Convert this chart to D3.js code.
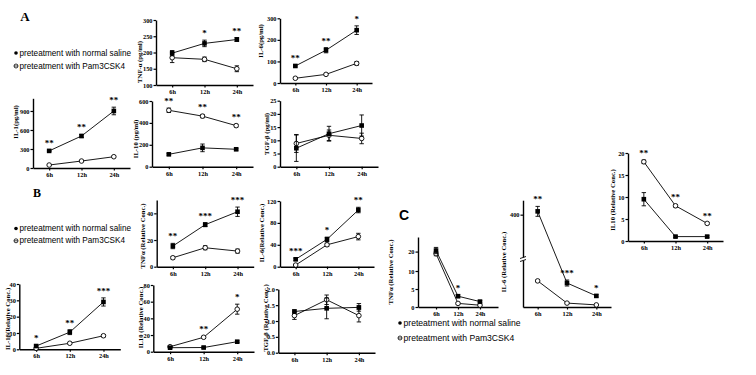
<!DOCTYPE html>
<html><head><meta charset="utf-8">
<script src="https://cdn.jsdelivr.net/npm/d3@7"></script>
<style>body{margin:0;background:#fff} svg{display:block}</style>
</head><body><svg id="fig" width="756" height="375"></svg>
<script>
const times = ["6h", "12h", "24h"];

// A: serum cytokines (pg/ml)
const aTnfSaline = [198, 228, 240], aTnfSalineErr = [8, 10, 6];
const aTnfPam = [184, 179, 150], aTnfPamErr = [15, 7, 9];
const aTnfStars = ["", "*", "**"];

const aIl6Saline = [79, 152, 245], aIl6SalineErr = [5, 12, 20];
const aIl6Pam = [22, 40, 91], aIl6PamErr = [3, 4, 8];
const aIl6Stars = ["**", "**", "*"];

const aIl1Saline = [270, 505, 900], aIl1SalineErr = [10, 25, 60];
const aIl1Pam = [47, 110, 178], aIl1PamErr = [5, 8, 10];
const aIl1Stars = ["**", "**", "**"];

const aIl10Saline = [113, 172, 159], aIl10SalineErr = [8, 35, 8];
const aIl10Pam = [515, 462, 375], aIl10PamErr = [20, 15, 12];
const aIl10Stars = ["**", "**", "**"];

const aTgfSaline = [7, 12.5, 15.6], aTgfSalineErr = [5, 2.8, 4];
const aTgfPam = [8.8, 11.9, 10.7], aTgfPamErr = [3.4, 2, 2];
const aTgfStars = ["", "", ""];

// B: relative mRNA
const bTnfSaline = [15.5, 31.5, 41.2], bTnfSalineErr = [2, 1.5, 3.5];
const bTnfPam = [6.7, 14.2, 11.7], bTnfPamErr = [1, 1.5, 1.5];
const bTnfStars = ["**", "***", "***"];

const bIl6Saline = [13.5, 50, 103.5], bIl6SalineErr = [2, 4, 5];
const bIl6Pam = [3, 40, 55], bIl6PamErr = [1.5, 3, 6];
const bIl6Stars = ["***", "*", "**"];

const bIl1Saline = [2, 10.5, 29], bIl1SalineErr = [0.6, 1.5, 2.5];
const bIl1Pam = [0.6, 3.7, 8.3], bIl1PamErr = [0.3, 0.5, 0.7];
const bIl1Stars = ["*", "**", "***"];

const bIl10Saline = [4.8, 5, 12], bIl10SalineErr = [0.8, 0.8, 1];
const bIl10Pam = [6, 17.3, 51], bIl10PamErr = [0.8, 1.2, 6];
const bIl10Stars = ["", "**", "*"];

const bTgfSaline = [1.3, 1.4, 1.43], bTgfSalineErr = [0.05, 0.33, 0.12];
const bTgfPam = [1.17, 1.67, 1.17], bTgfPamErr = [0.12, 0.15, 0.2];
const bTgfStars = ["", "", ""];

// C: relative mRNA
const cTnfSaline = [20.5, 3, 1.5], cTnfSalineErr = [1.5, 0.4, 0.3];
const cTnfPam = [19, 1, 0.5], cTnfPamErr = [1, 0.2, 0.1];
const cTnfStars = ["", "*", ""];

const cIl6Saline = [408, 80, 37], cIl6SalineErr = [12, 10, 4];
const cIl6Pam = [87, 13, 7], cIl6PamErr = [3, 2, 1];
const cIl6Stars = ["**", "***", "*"];

const cIl10Saline = [9.5, 1, 1], cIl10SalineErr = [1.5, 0.2, 0.2];
const cIl10Pam = [18, 8, 4], cIl10PamErr = [0.4, 0.3, 0.2];
const cIl10Stars = ["**", "**", "**"];

const legendSaline = "preteatment with normal saline";
const legendPam = "preteatment with Pam3CSK4";

const svg = d3.select("#fig");
const SERIF = "'Liberation Serif','Times New Roman',serif";
const SANS = "'Liberation Sans',Arial,sans-serif";

function panel(c) {
    const g = svg.append("g");
    const x = d3.scalePoint().domain(times)
        .range([c.x0, c.x0 + c.w]).padding(c.pad || 0.5);
    const y = d3.scaleLinear().domain(c.domain).range(c.range);

    const xa = g.append("g")
        .attr("transform", `translate(0,${c.range[0]})`)
        .call(d3.axisBottom(x).tickSize(2.5).tickSizeOuter(0).tickPadding(2));
    const ya = g.append("g")
        .attr("transform", `translate(${c.x0},0)`)
        .call(d3.axisLeft(y).tickValues(c.ticks).tickSize(2.5).tickSizeOuter(0)
            .tickPadding(1).tickFormat(c.fmt || (d => d)));
    [xa, ya].forEach(a => {
        a.select(".domain").attr("stroke", "#000").attr("stroke-width", 1.4);
        a.selectAll(".tick line").attr("stroke", "#000").attr("stroke-width", 1.2);
        a.selectAll("text").attr("fill", "#000").style("font-family", SERIF)
            .style("font-weight", "bold").style("font-size", "6.3px");
    });

    //axis break mark
    if (c.brk) {
        const yb = (y(c.brk[0]) + y(c.brk[1])) / 2;
        g.append("rect").attr("x", c.x0 - 3).attr("y", yb - 1.5).attr("width", 6).attr("height", 3)
            .attr("fill", "#fff");
        [-1.5, 1.5].forEach(d => g.append("line")
            .attr("x1", c.x0 - 3).attr("x2", c.x0 + 3).attr("y1", yb + d + 1).attr("y2", yb + d - 1)
            .attr("stroke", "#000").attr("stroke-width", 0.9));
    }

    //y label
    g.append("text")
        .attr("transform", `translate(${c.lx},${c.ly}) rotate(-90)`)
        .attr("text-anchor", "middle")
        .attr("dominant-baseline", "central")
        .style("font-family", SERIF).style("font-weight", "bold").style("font-size", "6.7px")
        .text(c.label);

    const line = d3.line().x((d, i) => x(times[i])).y(d => y(d));
    const series = [
        { v: c.pam, e: c.pamErr, open: true },
        { v: c.saline, e: c.salineErr, open: false }
    ];
    series.forEach(s => {
        g.append("path").datum(s.v).attr("d", line)
            .attr("fill", "none").attr("stroke", "#000").attr("stroke-width", 0.9);
        s.v.forEach((m, i) => {
            const cx = x(times[i]);
            const lo = y(m - s.e[i]), hi = y(m + s.e[i]);
            g.append("line").attr("x1", cx).attr("x2", cx).attr("y1", lo).attr("y2", hi)
                .attr("stroke", "#000").attr("stroke-width", 0.9);
            [lo, hi].forEach(yy => g.append("line")
                .attr("x1", cx - 2.2).attr("x2", cx + 2.2).attr("y1", yy).attr("y2", yy)
                .attr("stroke", "#000").attr("stroke-width", 0.9));
            if (s.open) {
                g.append("circle").attr("cx", cx).attr("cy", y(m)).attr("r", 2.3)
                    .attr("fill", "#fff").attr("stroke", "#000").attr("stroke-width", 0.9);
            } else {
                g.append("rect").attr("x", cx - 2.3).attr("y", y(m) - 2.3)
                    .attr("width", 4.6).attr("height", 4.6).attr("fill", "#000");
            }
        });
    });

    //significance marks
    c.stars.forEach((s, i) => {
        if (!s) return;
        const top = Math.min(y(c.saline[i] + c.salineErr[i]), y(c.pam[i] + c.pamErr[i]));
        g.append("text")
            .attr("x", x(times[i])).attr("y", top - 4)
            .attr("text-anchor", "middle")
            .style("font-family", SERIF).style("font-weight", "bold").style("font-size", "9px")
            .text(s);
    });
}

function legend(x0, y0, gap, size) {
    const g = svg.append("g");
    g.append("circle").attr("cx", x0).attr("cy", y0).attr("r", 1.8).attr("fill", "#000");
    g.append("circle").attr("cx", x0).attr("cy", y0 + gap).attr("r", 2)
        .attr("fill", "#fff").attr("stroke", "#000").attr("stroke-width", 0.8);
    g.append("line").attr("x1", x0 - 2).attr("x2", x0 + 2).attr("y1", y0 + gap).attr("y2", y0 + gap)
        .attr("stroke", "#000").attr("stroke-width", 0.7);
    [legendSaline, legendPam].forEach((t, i) => g.append("text")
        .attr("x", x0 + 3.5).attr("y", y0 + i * gap).attr("dominant-baseline", "central")
        .style("font-family", SANS).style("font-size", size + "px").text(t));
}

function letter(t, x, y, size, font) {
    svg.append("text").attr("x", x).attr("y", y).attr("text-anchor", "middle")
        .style("font-family", font).style("font-weight", "bold").style("font-size", size + "px")
        .text(t);
}

letter("A", 25, 21, 13, SERIF);
letter("B", 37, 197, 12, SERIF);
letter("C", 404, 220, 14, SANS);

legend(16, 53, 13, 8.2);
legend(16, 228.5, 12.3, 8.2);

// ---- A ----
panel({ x0: 156, w: 97, domain: [100, 300], range: [85, 20], ticks: [100, 150, 200, 250, 300],
    label: "TNF-α  (pg/ml)", lx: 139, ly: 62,
    saline: aTnfSaline, salineErr: aTnfSalineErr, pam: aTnfPam, pamErr: aTnfPamErr, stars: aTnfStars });
panel({ x0: 280, w: 92, domain: [0, 300], range: [83, 18.3], ticks: [0, 100, 200, 300],
    label: "IL-6(pg/ml)", lx: 260.5, ly: 41,
    saline: aIl6Saline, salineErr: aIl6SalineErr, pam: aIl6Pam, pamErr: aIl6PamErr, stars: aIl6Stars });
panel({ x0: 33, w: 97, domain: [0, 1100], range: [168, 98.3], ticks: [0, 300, 600, 900],
    label: "IL-1(pg/ml)", lx: 15, ly: 122,
    saline: aIl1Saline, salineErr: aIl1SalineErr, pam: aIl1Pam, pamErr: aIl1PamErr, stars: aIl1Stars });
panel({ x0: 152, w: 101, domain: [0, 600], range: [166.7, 101], ticks: [0, 200, 400, 600],
    label: "IL-10  (pg/ml)", lx: 135.5, ly: 139,
    saline: aIl10Saline, salineErr: aIl10SalineErr, pam: aIl10Pam, pamErr: aIl10PamErr, stars: aIl10Stars });
panel({ x0: 280, w: 98, domain: [0, 25], range: [166.7, 100.7], ticks: [0, 5, 10, 15, 20, 25],
    label: "TGF-β  (pg/ml)", lx: 266, ly: 134,
    saline: aTgfSaline, salineErr: aTgfSalineErr, pam: aTgfPam, pamErr: aTgfPamErr, stars: aTgfStars });

// ---- B ----
panel({ x0: 156.7, w: 97, domain: [0, 50], range: [266.7, 200], ticks: [0, 20, 40],
    label: "TNFα  (Relative Conc.)", lx: 142.7, ly: 236,
    saline: bTnfSaline, salineErr: bTnfSalineErr, pam: bTnfPam, pamErr: bTnfPamErr, stars: bTnfStars });
panel({ x0: 280, w: 94, domain: [0, 120], range: [266.7, 201], ticks: [0, 40, 80, 120],
    label: "IL-6(Relative Conc.)", lx: 261, ly: 233,
    saline: bIl6Saline, salineErr: bIl6SalineErr, pam: bIl6Pam, pamErr: bIl6PamErr, stars: bIl6Stars });
panel({ x0: 19.3, w: 101, domain: [0, 40], range: [349.3, 284], ticks: [0, 10, 20, 30, 40],
    label: "IL-1β(Relative Conc.)", lx: 7, ly: 319,
    saline: bIl1Saline, salineErr: bIl1SalineErr, pam: bIl1Pam, pamErr: bIl1PamErr, stars: bIl1Stars });
panel({ x0: 153.3, w: 100.7, domain: [0, 80], range: [351.7, 285], ticks: [0, 20, 40, 60, 80],
    label: "IL10 (Relative Conc.)", lx: 140.5, ly: 317.5,
    saline: bIl10Saline, salineErr: bIl10SalineErr, pam: bIl10Pam, pamErr: bIl10PamErr, stars: bIl10Stars });
panel({ x0: 278.3, w: 96.7, domain: [0, 2], range: [352.7, 289.3], ticks: [0, 0.5, 1, 1.5, 2],
    fmt: d3.format(".1f"), label: "TGF-β  (Relative Conc.)", lx: 265, ly: 318,
    saline: bTgfSaline, salineErr: bTgfSalineErr, pam: bTgfPam, pamErr: bTgfPamErr, stars: bTgfStars });

// ---- C ---- (segmented y axes)
panel({ x0: 418, w: 80, pad: 0.82, domain: [0, 10, 15, 27], range: [307, 271, 262, 237], ticks: [0, 5, 10, 20],
    label: "TNFα  (Relative Conc.)", lx: 390, ly: 272,
    saline: cTnfSaline, salineErr: cTnfSalineErr, pam: cTnfPam, pamErr: cTnfPamErr, stars: cTnfStars });
panel({ x0: 523, w: 88, domain: [0, 150, 300, 435], range: [307, 262, 256, 200.2], ticks: [400],
    brk: [150, 300], label: "IL-6 (Relative Conc.)", lx: 503, ly: 262,
    saline: cIl6Saline, salineErr: cIl6SalineErr, pam: cIl6Pam, pamErr: cIl6PamErr, stars: cIl6Stars });
panel({ x0: 628, w: 95, domain: [0, 20], range: [241, 153], ticks: [0, 5, 10, 15, 20],
    label: "IL10 (Relative Conc.)", lx: 612, ly: 200,
    saline: cIl10Saline, salineErr: cIl10SalineErr, pam: cIl10Pam, pamErr: cIl10PamErr, stars: cIl10Stars });

legend(400, 323, 15, 8.6);
</script>
</body></html>
